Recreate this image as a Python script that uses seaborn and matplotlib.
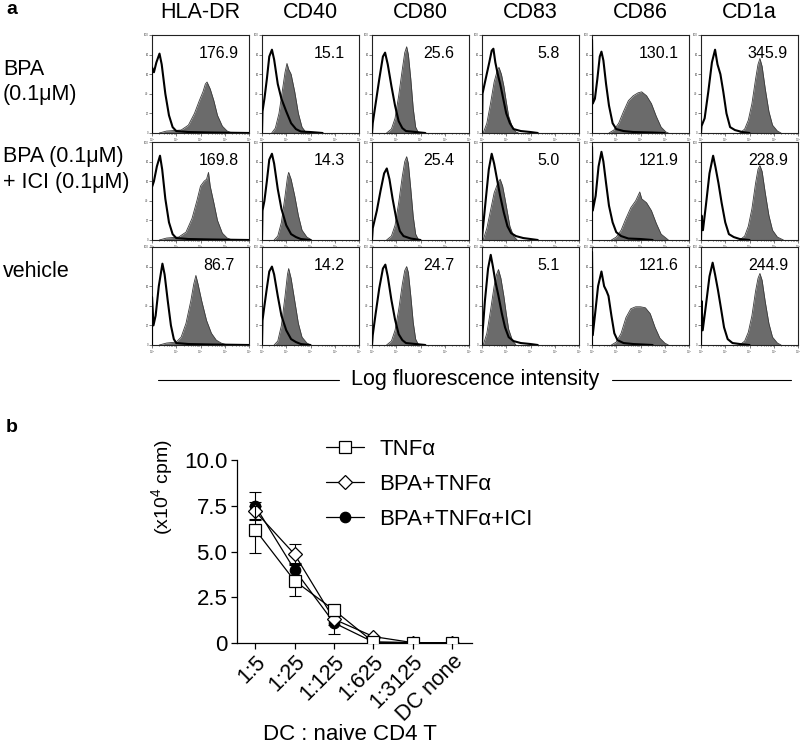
import matplotlib
matplotlib.use("Agg")
import matplotlib.pyplot as plt
import numpy as np
import pandas as pd
import seaborn as sns
from matplotlib.lines import Line2D

# ---- panel a: flow cytometry overlays (decade, fraction of panel height) ----
markers = ["HLA-DR", "CD40", "CD80", "CD83", "CD86", "CD1a"]
row_labels = [["BPA", "(0.1\u03bcM)"], ["BPA (0.1\u03bcM)", "+ ICI (0.1\u03bcM)"], ["vehicle"]]
mfi = [[176.9, 15.1, 25.6, 5.8, 130.1, 345.9],
       [169.8, 14.3, 25.4, 5.0, 121.9, 228.9],
       [86.7, 14.2, 24.7, 5.1, 121.6, 244.9]]

hla_dr_iso = [
    [(0, 0), (0, 0.67), (0.08, 0.62), (0.18, 0.72), (0.31, 0.81), (0.4, 0.7), (0.55, 0.4), (0.7, 0.18), (0.85, 0.06), (1.0, 0.02), (1.5, 0.01), (2.5, 0.005), (4, 0)],
    [(0, 0), (0, 0.54), (0.08, 0.6), (0.2, 0.75), (0.33, 0.86), (0.42, 0.72), (0.55, 0.42), (0.7, 0.18), (0.85, 0.06), (1.0, 0.02), (1.5, 0.01), (2.5, 0.005), (4, 0)],
    [(0, 0), (0, 0.49), (0.06, 0.2), (0.15, 0.3), (0.28, 0.6), (0.43, 0.83), (0.52, 0.72), (0.65, 0.45), (0.78, 0.2), (0.9, 0.06), (1.0, 0.02), (1.5, 0.01), (2.5, 0.005), (4, 0)]]
hla_dr_stain = [
    [(0.3, 0), (0.6, 0.02), (1.2, 0.03), (1.5, 0.08), (1.75, 0.2), (1.95, 0.33), (2.1, 0.42), (2.2, 0.5), (2.27, 0.52), (2.4, 0.45), (2.55, 0.33), (2.7, 0.18), (2.9, 0.07), (3.1, 0.02), (3.3, 0)],
    [(0.3, 0), (0.6, 0.02), (1.1, 0.03), (1.4, 0.08), (1.65, 0.22), (1.85, 0.4), (2.0, 0.55), (2.15, 0.6), (2.25, 0.62), (2.33, 0.69), (2.4, 0.55), (2.55, 0.38), (2.7, 0.2), (2.9, 0.07), (3.1, 0.02), (3.3, 0)],
    [(0.3, 0), (0.6, 0.02), (1.0, 0.03), (1.2, 0.08), (1.4, 0.22), (1.6, 0.45), (1.72, 0.62), (1.81, 0.71), (1.9, 0.62), (2.05, 0.45), (2.25, 0.25), (2.45, 0.12), (2.65, 0.05), (2.85, 0.02), (3.1, 0)]]

cd40_iso = [
    [(0, 0), (0.02, 0.22), (0.1, 0.35), (0.2, 0.55), (0.3, 0.78), (0.41, 0.85), (0.5, 0.75), (0.65, 0.5), (0.8, 0.35), (1.0, 0.22), (1.2, 0.1), (1.4, 0.04), (1.6, 0.015), (2.0, 0.01), (2.5, 0)],
    [(0, 0), (0.02, 0.3), (0.1, 0.4), (0.2, 0.6), (0.3, 0.82), (0.41, 0.88), (0.5, 0.78), (0.65, 0.52), (0.8, 0.32), (1.0, 0.15), (1.2, 0.06), (1.4, 0.03), (1.6, 0.01), (2.0, 0)],
    [(0, 0), (0.02, 0.25), (0.1, 0.4), (0.2, 0.58), (0.3, 0.75), (0.41, 0.8), (0.5, 0.72), (0.65, 0.5), (0.8, 0.3), (1.0, 0.15), (1.2, 0.06), (1.4, 0.03), (1.6, 0.01), (2.0, 0)]]
cd40_stain = [
    [(0.4, 0), (0.55, 0.05), (0.7, 0.2), (0.85, 0.45), (0.95, 0.62), (1.03, 0.71), (1.1, 0.65), (1.2, 0.6), (1.35, 0.42), (1.5, 0.2), (1.65, 0.06), (1.8, 0.01), (1.9, 0)],
    [(0.5, 0), (0.65, 0.04), (0.8, 0.18), (0.95, 0.45), (1.05, 0.64), (1.1, 0.69), (1.2, 0.62), (1.35, 0.45), (1.5, 0.25), (1.65, 0.1), (1.85, 0.03), (2.05, 0)],
    [(0.5, 0), (0.65, 0.04), (0.8, 0.2), (0.95, 0.5), (1.05, 0.72), (1.1, 0.78), (1.2, 0.68), (1.35, 0.45), (1.5, 0.22), (1.65, 0.08), (1.85, 0.02), (2.0, 0)]]

cd80_iso = [
    [(0, 0), (0.03, 0.1), (0.15, 0.3), (0.3, 0.55), (0.45, 0.78), (0.54, 0.82), (0.65, 0.7), (0.8, 0.48), (0.95, 0.28), (1.1, 0.12), (1.25, 0.05), (1.4, 0.02), (1.8, 0.01), (2.2, 0)],
    [(0, 0), (0.03, 0.12), (0.2, 0.3), (0.35, 0.5), (0.5, 0.68), (0.61, 0.73), (0.72, 0.62), (0.85, 0.42), (1.0, 0.22), (1.15, 0.09), (1.3, 0.04), (1.6, 0.015), (2.0, 0)],
    [(0, 0), (0.03, 0.1), (0.15, 0.32), (0.3, 0.58), (0.45, 0.78), (0.55, 0.82), (0.65, 0.7), (0.8, 0.46), (0.95, 0.26), (1.1, 0.11), (1.25, 0.05), (1.4, 0.02), (1.8, 0.01), (2.2, 0)]]
cd80_stain = [
    [(0.6, 0), (0.8, 0.04), (0.95, 0.15), (1.1, 0.38), (1.25, 0.65), (1.35, 0.82), (1.43, 0.88), (1.5, 0.8), (1.6, 0.55), (1.7, 0.25), (1.8, 0.06), (1.9, 0.01), (2.0, 0)],
    [(0.6, 0), (0.8, 0.04), (0.95, 0.15), (1.1, 0.38), (1.25, 0.65), (1.35, 0.8), (1.43, 0.85), (1.5, 0.78), (1.6, 0.52), (1.7, 0.24), (1.8, 0.06), (1.9, 0.01), (2.0, 0)],
    [(0.6, 0), (0.8, 0.04), (0.95, 0.15), (1.1, 0.36), (1.25, 0.62), (1.35, 0.76), (1.43, 0.8), (1.5, 0.74), (1.6, 0.5), (1.7, 0.23), (1.8, 0.06), (1.9, 0.01), (2.0, 0)]]

cd83_iso = [
    [(0, 0), (0.02, 0.4), (0.15, 0.55), (0.3, 0.72), (0.4, 0.84), (0.47, 0.86), (0.55, 0.72), (0.65, 0.6), (0.75, 0.5), (0.85, 0.38), (1.0, 0.2), (1.15, 0.1), (1.3, 0.04), (1.6, 0.02), (2.0, 0.01), (2.3, 0)],
    [(0, 0), (0.03, 0.1), (0.15, 0.4), (0.28, 0.72), (0.4, 0.88), (0.5, 0.78), (0.62, 0.62), (0.75, 0.45), (0.9, 0.28), (1.05, 0.14), (1.2, 0.07), (1.4, 0.04), (1.7, 0.02), (2.0, 0.01), (2.3, 0)],
    [(0, 0), (0.03, 0.15), (0.12, 0.45), (0.25, 0.78), (0.36, 0.92), (0.45, 0.8), (0.55, 0.65), (0.68, 0.5), (0.82, 0.32), (0.95, 0.18), (1.1, 0.08), (1.3, 0.04), (1.6, 0.02), (2.0, 0.01), (2.3, 0)]]
cd83_stain = [
    [(0.05, 0), (0.2, 0.1), (0.35, 0.3), (0.5, 0.52), (0.62, 0.63), (0.7, 0.67), (0.8, 0.6), (0.9, 0.48), (1.0, 0.32), (1.1, 0.17), (1.25, 0.06), (1.4, 0.01), (1.5, 0)],
    [(0.05, 0), (0.2, 0.12), (0.35, 0.3), (0.5, 0.48), (0.65, 0.58), (0.75, 0.62), (0.85, 0.55), (0.95, 0.42), (1.05, 0.28), (1.15, 0.14), (1.3, 0.04), (1.45, 0)],
    [(0.05, 0), (0.2, 0.12), (0.35, 0.35), (0.5, 0.6), (0.6, 0.72), (0.68, 0.77), (0.78, 0.68), (0.9, 0.5), (1.0, 0.32), (1.1, 0.16), (1.25, 0.05), (1.4, 0)]]

cd86_iso = [
    [(0, 0), (0, 0.95), (0.03, 0.3), (0.12, 0.35), (0.22, 0.55), (0.32, 0.78), (0.39, 0.83), (0.47, 0.74), (0.58, 0.5), (0.7, 0.28), (0.85, 0.1), (1.0, 0.04), (1.3, 0.02), (1.7, 0.01), (2.5, 0.005), (3, 0)],
    [(0, 0), (0, 0.95), (0.03, 0.3), (0.15, 0.45), (0.27, 0.75), (0.39, 0.9), (0.47, 0.8), (0.58, 0.58), (0.7, 0.35), (0.85, 0.18), (1.0, 0.08), (1.2, 0.04), (1.5, 0.015), (2.0, 0.01), (2.5, 0)],
    [(0, 0), (0, 0.95), (0.03, 0.1), (0.12, 0.3), (0.25, 0.6), (0.39, 0.75), (0.5, 0.6), (0.6, 0.55), (0.68, 0.5), (0.8, 0.3), (0.92, 0.12), (1.05, 0.05), (1.3, 0.02), (1.7, 0.01), (2.5, 0)]]
cd86_stain = [
    [(0.7, 0), (0.9, 0.03), (1.1, 0.1), (1.3, 0.22), (1.5, 0.33), (1.7, 0.38), (1.9, 0.41), (2.05, 0.42), (2.25, 0.38), (2.45, 0.3), (2.65, 0.17), (2.85, 0.06), (3.05, 0.01), (3.15, 0)],
    [(0.8, 0), (1.0, 0.03), (1.2, 0.1), (1.4, 0.22), (1.6, 0.33), (1.8, 0.4), (1.97, 0.49), (2.05, 0.42), (2.25, 0.38), (2.45, 0.3), (2.65, 0.17), (2.85, 0.06), (3.05, 0.02), (3.15, 0)],
    [(0.8, 0), (1.0, 0.03), (1.2, 0.12), (1.4, 0.28), (1.6, 0.37), (1.8, 0.39), (2.0, 0.39), (2.2, 0.38), (2.4, 0.32), (2.6, 0.18), (2.8, 0.07), (3.0, 0.02), (3.15, 0)]]

cd1a_iso = [
    [(0, 0), (0.02, 0.07), (0.15, 0.15), (0.3, 0.42), (0.45, 0.72), (0.58, 0.85), (0.68, 0.7), (0.8, 0.6), (0.92, 0.42), (1.05, 0.2), (1.2, 0.06), (1.4, 0.03), (1.7, 0.01), (2.0, 0)],
    [(0, 0), (0.02, 0.25), (0.08, 0.1), (0.2, 0.35), (0.35, 0.68), (0.5, 0.86), (0.6, 0.74), (0.72, 0.58), (0.85, 0.38), (1.0, 0.18), (1.15, 0.06), (1.35, 0.03), (1.6, 0.01), (2.0, 0)],
    [(0, 0), (0.02, 0.45), (0.07, 0.15), (0.2, 0.4), (0.35, 0.7), (0.48, 0.84), (0.58, 0.72), (0.7, 0.56), (0.82, 0.38), (0.95, 0.18), (1.1, 0.06), (1.3, 0.02), (1.6, 0.01), (2.0, 0)]]
cd1a_stain = [
    [(1.6, 0), (1.8, 0.04), (1.95, 0.13), (2.1, 0.3), (2.25, 0.55), (2.35, 0.7), (2.43, 0.76), (2.52, 0.68), (2.65, 0.45), (2.8, 0.22), (2.95, 0.08), (3.15, 0.02), (3.3, 0)],
    [(1.6, 0), (1.8, 0.04), (1.95, 0.14), (2.1, 0.32), (2.25, 0.58), (2.35, 0.72), (2.43, 0.76), (2.52, 0.7), (2.65, 0.48), (2.8, 0.25), (2.95, 0.1), (3.15, 0.03), (3.4, 0)],
    [(1.6, 0), (1.8, 0.04), (1.95, 0.13), (2.1, 0.3), (2.25, 0.55), (2.35, 0.68), (2.43, 0.73), (2.52, 0.66), (2.65, 0.44), (2.8, 0.22), (2.95, 0.08), (3.15, 0.02), (3.3, 0)]]

iso_curves = [hla_dr_iso, cd40_iso, cd80_iso, cd83_iso, cd86_iso, cd1a_iso]
stain_curves = [hla_dr_stain, cd40_stain, cd80_stain, cd83_stain, cd86_stain, cd1a_stain]

# ---- panel b: MLR proliferation ----
ratios = ["1:5", "1:25", "1:125", "1:625", "1:3125", "DC none"]
tnf = [6.2, 3.4, 1.8, 0.05, 0.02, 0.02]
tnf_err = [1.3, 0.85, 0.3, 0.05, 0.0, 0.0]
bpa_tnf = [7.2, 4.85, 1.3, 0.35, 0.02, 0.02]
bpa_tnf_err = [0.5, 0.55, 0.3, 0.05, 0.0, 0.0]
bpa_tnf_ici = [7.5, 4.0, 1.1, 0.05, 0.02, 0.02]
bpa_tnf_ici_err = [0.75, 0.35, 0.6, 0.03, 0.0, 0.0]
series_names = ["TNF\u03b1", "BPA+TNF\u03b1", "BPA+TNF\u03b1+ICI"]

sns.set_style("ticks")
plt.rcParams["font.family"] = ["Liberation Sans", "DejaVu Sans"]
plt.rcParams["mathtext.fontset"] = "custom"
plt.rcParams["mathtext.rm"] = "Liberation Sans"
for key in ["text.color", "axes.labelcolor", "xtick.color", "ytick.color", "axes.edgecolor"]:
    plt.rcParams[key] = "black"

W, H = 800, 744
fig = plt.figure(figsize=(W / 100, H / 100), dpi=100)


def box(x, y, w, h):
    return [x / W, 1 - (y + h) / H, w / W, h / H]


def ftext(x, y, s, **kw):
    fig.text(x / W, 1 - y / H, s, **kw)


col_left = [152, 262, 372, 482, 592, 701]
row_top = [35, 142, 247]
pw, ph = 97, 98
fill_col = "#6b6b6b"

for r in range(3):
    for c in range(6):
        ax = fig.add_axes(box(col_left[c], row_top[r], pw, ph))
        st = np.array(stain_curves[c][r], dtype=float)
        iso = np.array(iso_curves[c][r], dtype=float)
        ax.fill_between(10 ** st[:, 0], st[:, 1], color=fill_col, lw=0, zorder=1)
        sns.lineplot(x=10 ** st[:, 0], y=st[:, 1], sort=False, estimator=None,
                     color="#3a3a3a", lw=0.6, ax=ax, zorder=2)
        sns.lineplot(x=10 ** iso[:, 0], y=iso[:, 1], sort=False, estimator=None,
                     color="black", lw=1.5, ax=ax, zorder=3)
        ax.set_xscale("log")
        ax.set_xlim(1, 1e4)
        ax.set_ylim(0, 1)
        ax.set_yticks(np.linspace(0, 1, 6))
        ax.set_yticklabels(["0", "20", "40", "60", "80", "100"])
        ax.set_xlabel("")
        ax.set_ylabel("")
        ax.tick_params(which="major", length=2, width=0.5, labelsize=2, pad=0.5, colors="#444")
        ax.tick_params(which="minor", length=1, width=0.4)
        for sp in ax.spines.values():
            sp.set_linewidth(0.8)
            sp.set_color("#222")
        ax.text(0.69, 0.81, f"{mfi[r][c]:.1f}", transform=ax.transAxes,
                ha="center", va="center", fontsize=11.5)

for c, name in enumerate(markers):
    ftext(col_left[c] + pw / 2, 18, name, ha="center", va="baseline", fontsize=15.5)

row_baselines = [[75, 100], [162, 188], [277]]
for lines, bases in zip(row_labels, row_baselines):
    for s, yb in zip(lines, bases):
        ftext(3, yb, s, ha="left", va="baseline", fontsize=15.5)

ftext(6, 14, "a", fontweight="bold", fontsize=14, va="baseline")
ftext(6, 432, "b", fontweight="bold", fontsize=14, va="baseline")

ftext(475, 385, "Log fluorescence intensity", ha="center", va="baseline", fontsize=15.5)
for x0, x1 in [(158, 339), (612, 791)]:
    fig.add_artist(Line2D([x0 / W, x1 / W], [1 - 380 / H] * 2, color="black", lw=0.8))

# ---- panel b axes ----
axb = fig.add_axes(box(237, 460, 235, 183))
pos = np.arange(len(ratios))
df = pd.DataFrame({
    "pos": np.tile(pos, 3),
    "value": tnf + bpa_tnf + bpa_tnf_ici,
    "err": tnf_err + bpa_tnf_err + bpa_tnf_ici_err,
    "series": np.repeat(series_names, len(ratios)),
})
styles = {
    series_names[0]: dict(marker="s", markersize=8, markerfacecolor="white", zorder=6),
    series_names[1]: dict(marker="D", markersize=7.5, markerfacecolor="white", zorder=5),
    series_names[2]: dict(marker="o", markersize=7.5, markerfacecolor="black", zorder=4),
}
for name in [series_names[2], series_names[1], series_names[0]]:
    d = df[df["series"] == name]
    st = styles[name]
    axb.errorbar(d["pos"], d["value"], yerr=d["err"], fmt="none", ecolor="black",
                 elinewidth=0.8, capsize=4, capthick=0.8, zorder=st["zorder"] - 0.5)
    sns.lineplot(data=d, x="pos", y="value", ax=axb, color="black", lw=0.9,
                 errorbar=None, marker=st["marker"], markersize=st["markersize"],
                 markerfacecolor=st["markerfacecolor"], markeredgecolor="black",
                 markeredgewidth=0.9, zorder=st["zorder"], legend=False)

axb.set_xlim(-0.46, 5.5)
axb.set_ylim(0, 10)
axb.set_yticks([0, 2.5, 5.0, 7.5, 10.0])
axb.set_yticklabels(["0", "2.5", "5.0", "7.5", "10.0"])
axb.set_xticks(pos)
axb.set_xticklabels(ratios, rotation=45, ha="right", rotation_mode="anchor")
axb.tick_params(labelsize=16, length=4, width=0.9, pad=3)
axb.tick_params(axis="x", labelsize=15.5, pad=2)
axb.set_xlabel("DC : naive CD4 T", fontsize=16)
axb.xaxis.set_label_coords(0.48, -0.44)
axb.set_ylabel("")
sns.despine(ax=axb)
for sp in ["left", "bottom"]:
    axb.spines[sp].set_linewidth(0.9)
ftext(163, 487, "(x10$^{\\mathregular{4}}$ cpm)", rotation=90, ha="center", va="center", fontsize=14)

handles = [Line2D([], [], color="black", lw=0.9, marker=styles[n]["marker"],
                  markersize=styles[n]["markersize"], markerfacecolor=styles[n]["markerfacecolor"],
                  markeredgecolor="black", markeredgewidth=0.9) for n in series_names]
fig.legend(handles, series_names, loc="upper left", bbox_to_anchor=(326 / W, 1 - 439 / H),
           frameon=False, fontsize=16, handlelength=1.7, handletextpad=0.7,
           labelspacing=0.62, borderpad=0, borderaxespad=0)

fig.savefig("out.png", dpi=100)
